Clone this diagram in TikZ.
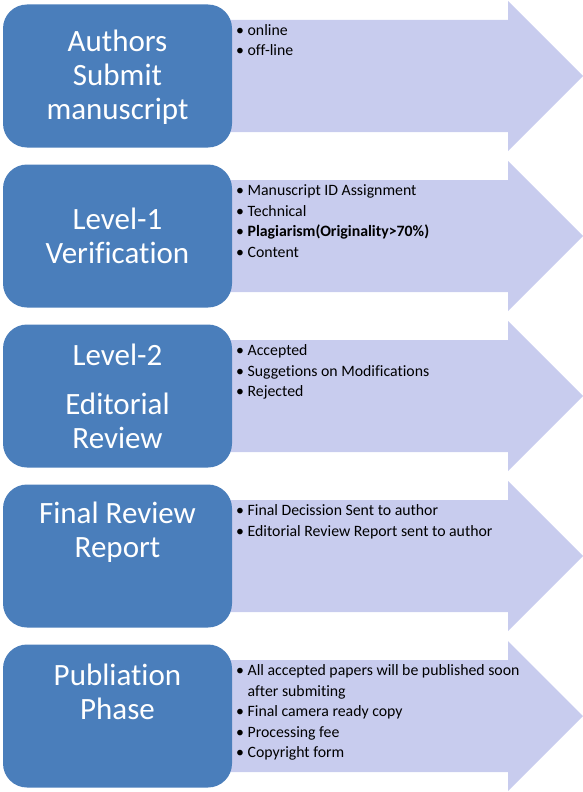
\documentclass[tikz,border=0pt]{standalone}
\usepackage{fontspec}
\setmainfont{Carlito}[Ligatures=NoCommon]
\definecolor{phaseblue}{RGB}{74,126,187}
\definecolor{arrowlilac}{RGB}{200,204,238}
\tikzset{
    phase/.style={fill=phaseblue, rounded corners=24pt, minimum width=229pt, minimum height=143pt, inner sep=0pt},
    phasetext/.style={text=white, align=center, inner sep=0pt, font=\fontsize{31}{34}\selectfont},
    items/.style={anchor=base west, align=left, inner sep=0pt, font=\fontsize{15.8}{20.5}\selectfont}
}
\begin{document}
\begin{tikzpicture}[x=1pt,y=-1pt]
            \useasboundingbox (0,0) rectangle (583,792);
            % arrows behind the boxes
            \foreach \c in {76,236,396,556,716}
                \fill[arrowlilac] (200,\c-56) -- (508,\c-56) -- (508,\c-75) -- (583,\c) -- (508,\c+75) -- (508,\c+56) -- (200,\c+56) -- cycle;
            \node[phase] (box1) at (117.5,76) {};
            \node[phase] (box2) at (117.5,236) {};
            \node[phase] (box3) at (117.5,396) {};
            \node[phase] (box4) at (117.5,556) {};
            \node[phase] (box5) at (117.5,716) {};
            \node[phasetext] (title1) at ([yshift=-1pt]box1.center) {Authors\\Submit\\manuscript};
            \node[phasetext] (title2) at (box2.center) {Level-1\\Verification};
            \node[phasetext] (title3) at (box3.center) {Level-2\\[15pt]Editorial\\Review};
            \node[phasetext] (title4) at ([yshift=24pt]box4.center) {Final Review\\Report};
            \node[phasetext] (title5) at ([yshift=24pt]box5.center) {Publiation\\Phase};
            % bullet lists (base = last line)
            \node[items] (list1) at (236,56) {•\ online\\•\ off-line};
            \node[items] (list2) at (236,257) {•\ Manuscript ID Assignment\\•\ Technical\\•\ \textbf{Plagiarism(Originality>70\%)}\\•\ Content};
            \node[items] (list3) at (236,396.5) {•\ Accepted\\•\ Suggetions on Modifications\\•\ Rejected};
            \node[items] (list4) at (236,536) {•\ Final Decission Sent to author\\•\ Editorial Review Report sent to author};
            \node[items] (list5) at (236,757.5) {•\ All accepted papers will be published soon\\\phantom{•\ }after submiting\\•\ Final camera ready copy\\•\ Processing fee\\•\ Copyright form};
        \end{tikzpicture}
\end{document}
